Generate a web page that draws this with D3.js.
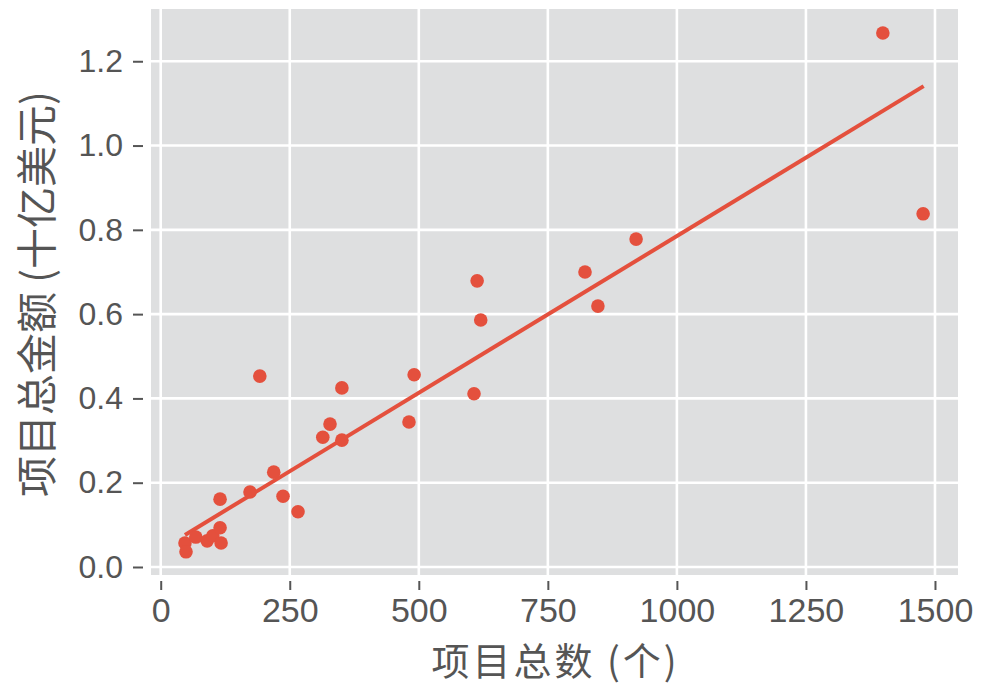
<!DOCTYPE html>
<html><head><meta charset="utf-8">
<script src="https://cdn.jsdelivr.net/npm/d3@7"></script>
<style>body{margin:0;background:#fff}</style>
</head><body>
<svg id="c" width="981" height="689"></svg>
<script>
const projectCounts = [1399,1477,921,822,847,613,620,491,607,481,351,328,314,351,192,219,173,237,266,115,47,49,68,90,101,115,117];
const projectAmounts = [1.267,0.838,0.778,0.700,0.619,0.679,0.586,0.456,0.411,0.344,0.425,0.339,0.308,0.301,0.453,0.225,0.178,0.168,0.131,0.161,0.057,0.036,0.071,0.062,0.074,0.093,0.057];
const fitCounts = [47,1478];
const fitAmounts = [0.076,1.141];
const xTicks = [0,250,500,750,1000,1250,1500];
const yTicks = [0.0,0.2,0.4,0.6,0.8,1.0,1.2];
const xTitle = "项目总数 (个)";
const yTitle = "项目总金额 (十亿美元)";

const svg = d3.select("#c");
const L=151,R=958,T=9,B=575;
const x = d3.scaleLinear().domain([-18.8,1544.6]).range([L,R]);
const y = d3.scaleLinear().domain([-0.019,1.324]).range([B,T]);
const red="#E4503D", txt="#555555";

svg.append("rect").attr("x",L).attr("y",T).attr("width",R-L).attr("height",B-T).attr("fill","#DEDFE0");
svg.append("g").selectAll("line").data(xTicks).join("line")
  .attr("x1",d=>x(d)).attr("x2",d=>x(d)).attr("y1",T).attr("y2",B)
  .attr("stroke","#fff").attr("stroke-width",2.6);
svg.append("g").selectAll("line").data(yTicks).join("line")
  .attr("y1",d=>y(d)).attr("y2",d=>y(d)).attr("x1",L).attr("x2",R)
  .attr("stroke","#fff").attr("stroke-width",2.6);

const xa = svg.append("g").attr("transform",`translate(0,${B+6})`)
  .call(d3.axisBottom(x).tickValues(xTicks).tickSize(9).tickPadding(8).tickFormat(d3.format("d")));
xa.select(".domain").remove();
xa.selectAll("line").attr("stroke",txt).attr("stroke-width",2);
xa.selectAll("text").attr("fill",txt).style("font-family","Liberation Sans Narrow, Liberation Sans, Arial, sans-serif").style("font-size","34px");

const ya = svg.append("g").attr("transform",`translate(${L-8},0)`)
  .call(d3.axisLeft(y).tickValues(yTicks).tickSize(10).tickPadding(10).tickFormat(d3.format(".1f")));
ya.select(".domain").remove();
ya.selectAll("line").attr("stroke",txt).attr("stroke-width",2);
ya.selectAll("text").attr("fill",txt).style("font-family","Liberation Sans, Arial, sans-serif").style("font-size","32px");

svg.append("line").attr("x1",x(fitCounts[0])).attr("y1",y(fitAmounts[0])).attr("x2",x(fitCounts[1])).attr("y2",y(fitAmounts[1]))
  .attr("stroke",red).attr("stroke-width",4);

svg.append("g").selectAll("circle").data(projectCounts.map((c,i)=>[c,projectAmounts[i]])).join("circle")
  .attr("cx",d=>x(d[0])).attr("cy",d=>y(d[1])).attr("r",6.8).attr("fill",red);

svg.append("text").attr("x",(L+R)/2+1).attr("y",675).attr("text-anchor","middle")
  .attr("fill",txt).style("font-family","Noto Sans CJK SC, sans-serif").style("font-size","38px").style("letter-spacing","3px").text(xTitle);
svg.append("text").attr("transform",`translate(52,${(T+B)/2+2}) rotate(-90)`).attr("text-anchor","middle")
  .attr("fill",txt).style("font-family","Noto Sans CJK SC, sans-serif").style("font-size","41px").text(yTitle);
</script>
</body></html>
